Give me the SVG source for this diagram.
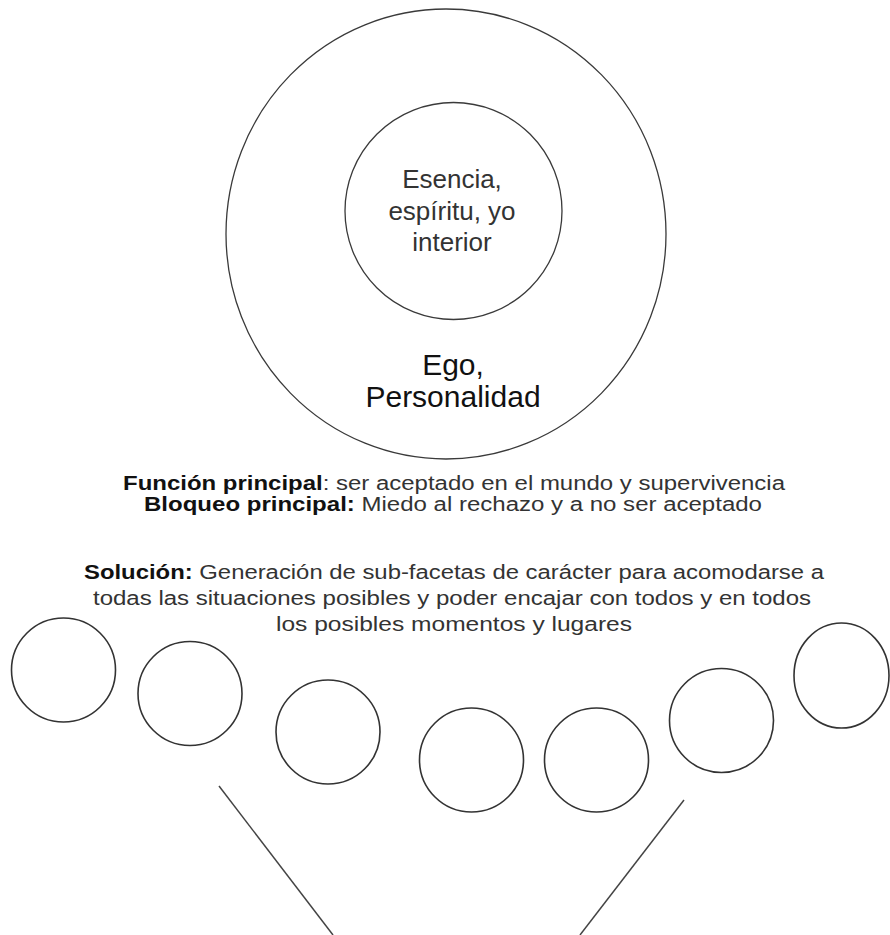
<svg xmlns="http://www.w3.org/2000/svg" width="890" height="935" viewBox="0 0 890 935">
<style>
  .ring { fill: none; stroke: #3a3a3a; stroke-width: 1.3; }
  .sub { fill: none; stroke: #333; stroke-width: 1.6; }
  .line { stroke: #444; stroke-width: 1.5; fill: none; }
  .t { font-family: "Liberation Sans", Arial, sans-serif; fill: #2a2a2a; text-anchor: middle; }
  .inner { font-size: 26px; fill: #333; }
  .ego { font-size: 30px; fill: #111; }
  .body { font-size: 19.5px; fill: #333; }
  .b { font-weight: bold; fill: #111; }
</style>
<rect x="0" y="0" width="890" height="935" fill="#ffffff"/>

<g id="ego-personalidad">
  <ellipse class="ring" cx="446" cy="234" rx="220" ry="225"/>
  <text class="t ego" x="453" y="375">Ego,</text>
  <text class="t ego" x="453" y="407">Personalidad</text>
</g>

<g id="esencia">
  <circle class="ring" cx="453.5" cy="211" r="108.5"/>
  <text class="t inner" x="452" y="188">Esencia,</text>
  <text class="t inner" x="452" y="220">espíritu, yo</text>
  <text class="t inner" x="452" y="251">interior</text>
</g>

<g id="funcion">
  <text class="t body" x="454" y="490" textLength="662" lengthAdjust="spacingAndGlyphs"><tspan class="b">Función principal</tspan>: ser aceptado en el mundo y supervivencia</text>
  <text class="t body" x="453" y="511" textLength="618" lengthAdjust="spacingAndGlyphs"><tspan class="b">Bloqueo principal:</tspan> Miedo al rechazo y a no ser aceptado</text>
</g>

<g id="solucion">
  <text class="t body" x="454" y="579" textLength="740" lengthAdjust="spacingAndGlyphs"><tspan class="b">Solución:</tspan> Generación de sub-facetas de carácter para acomodarse a</text>
  <text class="t body" x="452" y="605" textLength="718" lengthAdjust="spacingAndGlyphs">todas las situaciones posibles y poder encajar con todos y en todos</text>
  <text class="t body" x="454" y="631" textLength="356" lengthAdjust="spacingAndGlyphs">los posibles momentos y lugares</text>
</g>

<g id="subfacetas">
  <g id="faceta-1"><circle class="sub" cx="63.5" cy="670" r="52"/></g>
  <g id="faceta-2"><circle class="sub" cx="190" cy="693.5" r="52"/></g>
  <g id="faceta-3"><circle class="sub" cx="328" cy="732" r="52"/></g>
  <g id="faceta-4"><circle class="sub" cx="471.5" cy="760" r="52"/></g>
  <g id="faceta-5"><circle class="sub" cx="596.5" cy="760" r="52"/></g>
  <g id="faceta-6"><circle class="sub" cx="721.5" cy="720.5" r="52"/></g>
  <g id="faceta-7"><ellipse class="sub" cx="841.5" cy="675.5" rx="47.5" ry="52.5"/></g>
</g>

<g id="connectors">
  <line class="line" x1="219" y1="786" x2="333" y2="935"/>
  <line class="line" x1="684" y1="800" x2="580" y2="935"/>
</g>
</svg>
